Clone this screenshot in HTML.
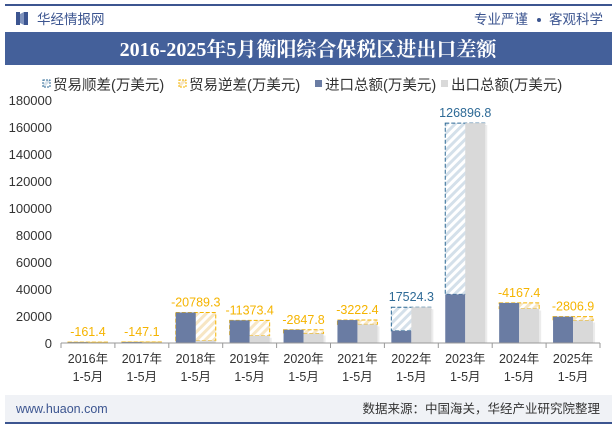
<!DOCTYPE html>
<html><head><meta charset="utf-8"><style>
body{margin:0;width:615px;height:427px;overflow:hidden;background:#fff;font-family:"Liberation Sans","Noto Sans CJK SC",sans-serif;}
svg{display:block}
</style></head><body>
<svg width="615" height="427" xmlns="http://www.w3.org/2000/svg">
<defs>
<pattern id="hb" width="6" height="6" patternUnits="userSpaceOnUse" patternTransform="rotate(45)"><rect width="6" height="6" fill="#fff"/><rect width="3" height="6" fill="#d4e0ea"/></pattern>
<pattern id="hy" width="6" height="6" patternUnits="userSpaceOnUse" patternTransform="rotate(45)"><rect width="6" height="6" fill="#fff"/><rect width="3" height="6" fill="#f7e6c4"/></pattern>
</defs>
<rect x="5" y="4" width="607" height="2" fill="#3c5590"/>
<g><rect x="16" y="12" width="4" height="13" fill="#3c5590"/><rect x="24" y="12" width="4" height="13" fill="#3c5590"/><polygon points="20,14 24,12 24,25 20,23" fill="#7f93bd"/></g>
<text x="37" y="24" font-size="13.5" fill="#3c5590">华经情报网</text>
<text x="474" y="24" font-size="13.5" fill="#3c5590">专业严谨</text>
<circle cx="539" cy="20" r="2" fill="#3c5590"/>
<text x="549" y="24" font-size="13.5" fill="#3c5590">客观科学</text>
<rect x="5" y="32" width="607" height="33" fill="#44609a"/>
<text x="308" y="56" font-size="20" font-weight="bold" fill="#fff" text-anchor="middle" font-family="Liberation Serif,'Noto Serif CJK SC',serif">2016-2025年5月衡阳综合保税区进出口差额</text>
<g font-size="14.5" fill="#333">
<g><rect x="43" y="80" width="7" height="7" fill="url(#hb)" stroke="#2e6a96" stroke-dasharray="2,1"/><text x="53" y="90">贸易顺差(万美元)</text></g>
<g><rect x="179" y="80" width="7" height="7" fill="url(#hy)" stroke="#f5b400" stroke-dasharray="2,1"/><text x="189" y="90">贸易逆差(万美元)</text></g>
<g><rect x="315" y="80" width="7" height="7" fill="#6a7ca3"/><text x="325" y="90">进口总额(万美元)</text></g>
<g><rect x="441" y="80" width="7" height="7" fill="#d9d9d9"/><text x="451" y="90">出口总额(万美元)</text></g>
</g>
<g id="yaxis"></g>
<g id="bars"></g>
<g id="xaxis"></g>
<rect x="5" y="395" width="607" height="27" fill="#f0f2f6"/>
<rect x="5" y="422" width="607" height="2" fill="#3c5590"/>
<text x="16" y="413" font-size="12.5" fill="#3c5590">www.huaon.com</text>
<text x="600" y="413" font-size="12.5" fill="#333" text-anchor="end">数据来源：中国海关，华经产业研究院整理</text>
</svg>
<script>
const categories=["2016年","2017年","2018年","2019年","2020年","2021年","2022年","2023年","2024年","2025年"];
const imports=[620,700,22600,16800,9800,17000,9000,36000,29700,19500];
const exports=[460,550,1800,5400,7000,13800,26500,162900,25500,16700];
const balances=[-161.4,-147.1,-20789.3,-11373.4,-2847.8,-3222.4,17524.3,126896.8,-4167.4,-2806.9];
const yTicks=[0,20000,40000,60000,80000,100000,120000,140000,160000,180000];
const NS="http://www.w3.org/2000/svg";
const x0=61,x1=600,yb=343,yt=100,ymax=180000;
const gw=(x1-x0)/categories.length;
const ys=v=>yb-(v/ymax)*(yb-yt);
function mk(tag,attrs,parent){const e=document.createElementNS(NS,tag);for(const k in attrs)e.setAttribute(k,attrs[k]);parent.appendChild(e);return e;}
const ya=document.getElementById('yaxis'),ba=document.getElementById('bars'),xa=document.getElementById('xaxis');
yTicks.forEach(t=>{const e=mk('text',{x:52,y:ys(t)+5,'font-size':13,fill:'#333','text-anchor':'end'},ya);e.textContent=t;

});
mk('line',{x1:x0,y1:yb,x2:x1,y2:yb,stroke:'#999'},xa);
categories.forEach((c,i)=>{
 const gx=x0+i*gw, bw=20, lx=gx+gw/2-bw;
 const imp=imports[i], exp=exports[i], b=balances[i];
 const lo=Math.min(imp,exp), hi=Math.max(imp,exp);
 const sur=b>0;
 const box=mk('rect',{x:lx,y:ys(hi),width:bw*2,height:ys(lo)-ys(hi),fill:sur?'url(#hb)':'url(#hy)',stroke:sur?'#2e6a96':'#f5b400','stroke-dasharray':'4,2','stroke-width':1},ba);
 
 
 const r1=mk('rect',{x:lx,y:ys(imp),width:bw,height:yb-ys(imp),fill:'#6a7ca3'},ba);
 
 
 mk('rect',{x:lx+bw+2,y:ys(exp)+2,width:bw,height:yb-ys(exp)-2,fill:'#ececec'},ba);
 const r2=mk('rect',{x:lx+bw,y:ys(exp),width:bw,height:yb-ys(exp),fill:'#d9d9d9'},ba);
 
 
 const lb=mk('text',{x:gx+gw/2,y:ys(hi)-6,'font-size':12.5,fill:sur?'#2e6a96':'#f5b400','text-anchor':'middle'},ba);
 lb.textContent=b.toFixed(1);
 
 
 mk('line',{x1:gx,y1:yb,x2:gx,y2:yb+5,stroke:'#999'},xa);
 const t1=mk('text',{x:gx+gw/2,y:363,'font-size':12.5,fill:'#333','text-anchor':'middle'},xa);t1.textContent=c;
 
 
 const t2=mk('text',{x:gx+gw/2,y:381,'font-size':12.5,fill:'#333','text-anchor':'middle'},xa);t2.textContent='1-5月';
 
 
});
mk('line',{x1:x1,y1:yb,x2:x1,y2:yb+5,stroke:'#999'},xa);
</script>
</body></html>
